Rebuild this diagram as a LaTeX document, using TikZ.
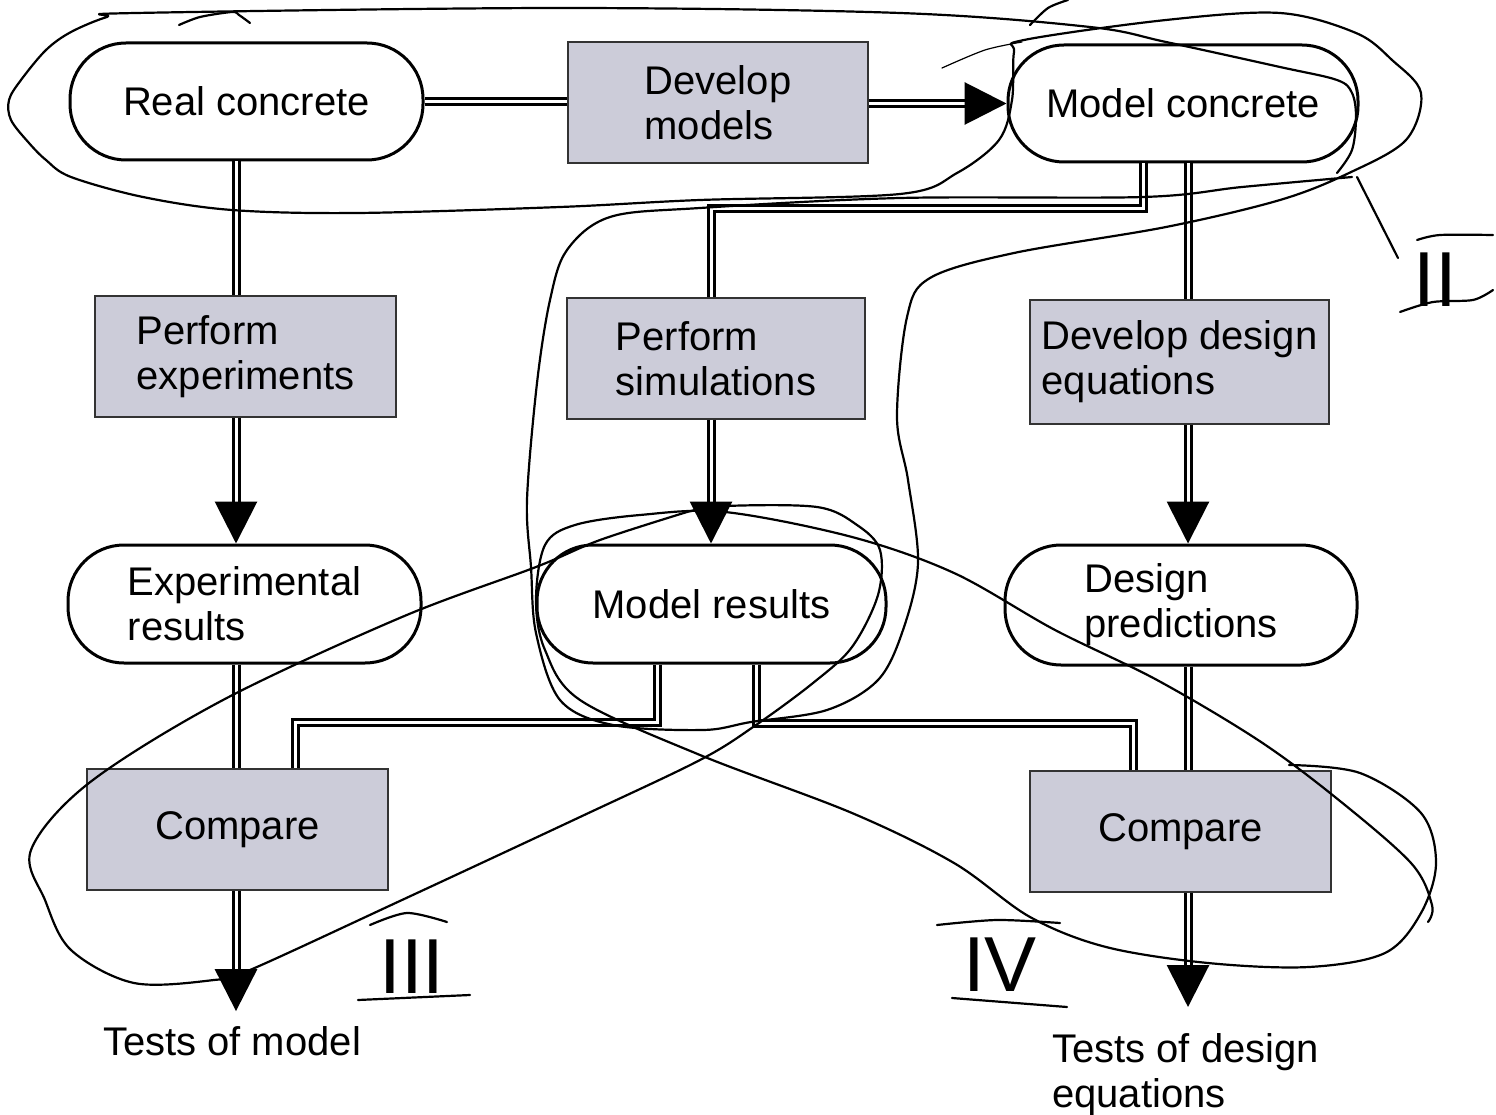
\documentclass[tikz,border=0pt]{standalone}
\usepackage{fontspec}
\setmainfont{Liberation Sans}
\usetikzlibrary{arrows.meta}
\definecolor{boxgray}{RGB}{204,204,217}
\begin{document}
\begin{tikzpicture}[x=1pt,y=-1pt,
  txt/.style={font=\fontsize{40pt}{45pt}\selectfont, align=left, inner sep=0pt},
  stad/.style={txt, draw=black, line width=3pt, rounded corners=56pt, fill=white},
  gbox/.style={txt, draw=black!80, line width=1.5pt, fill=boxgray},
  plain/.style={txt},
  dbl/.style={draw=black, double=white, double distance=3pt, line width=3pt},
  tipped/.style={-{Triangle[length=42pt,width=42pt]}},
  hand/.style={line width=2.2pt, line cap=round, line join=round},
  numeral/.style={inner sep=0pt, font=\fontsize{78pt}{80pt}\selectfont}
]
\useasboundingbox (0,0) rectangle (1496,1115);
\fill[white] (0,0) rectangle (1496,1115);

% column coordinates
\coordinate (cL) at (236,0);
\coordinate (cM) at (711,0);
\coordinate (cR) at (1188,0);
\coordinate (xA) at (1143,209);
\coordinate (j1) at (657,722);
\coordinate (kL) at (295,722);
\coordinate (j2) at (756,723);
\coordinate (kR) at (1133,723);

% nodes
\node[stad, minimum width=353pt, minimum height=117pt] (real) at (246.5,101.5) {Real concrete};
\node[gbox, minimum width=300pt, minimum height=121pt] (devmod) at (718,102.5) {Develop\\models};
\node[stad, minimum width=350pt, minimum height=117pt] (modcon) at (1183,103.5) {Model concrete};
\node[gbox, minimum width=301pt, minimum height=121pt] (perfexp) at (245.5,356.5) {Perform\\experiments};
\node[gbox, minimum width=298pt, minimum height=121pt] (perfsim) at (716,358.5) {Perform\\simulations};
\node[gbox, minimum width=299pt, minimum height=124pt] (devdes) at (1179.5,362) {Develop design\\equations};
\node[stad, minimum width=353pt, minimum height=118pt] (expres) at (244.5,604) {Experimental\\results};
\node[stad, minimum width=349pt, minimum height=118pt] (modres) at (711.5,604) {Model results};
\node[stad, minimum width=352pt, minimum height=120pt] (despred) at (1181,605) {Design\\predictions};
\node[gbox, minimum width=301pt, minimum height=121pt] (cmpL) at (237.5,829.5) {Compare};
\node[gbox, minimum width=301pt, minimum height=121pt] (cmpR) at (1180.5,831.5) {Compare};
\node[plain] (testL) at (232,1041) {Tests of model};
\node[plain, anchor=north west] (testR) at (1052,1033) {Tests of design\\equations};

% connectors
\draw[dbl] (real.east) -- (real.east -| devmod.west);
\draw[dbl, tipped] (modcon.west -| devmod.east) -- (modcon.west);
\draw[dbl] (real.south -| cL) -- (perfexp.north -| cL);
\draw[dbl, tipped] (perfexp.south -| cL) -- (expres.north -| cL);
\draw[dbl] (expres.south -| cL) -- (cmpL.north -| cL);
\draw[dbl, tipped, shorten >=15pt] (cmpL.south -| cL) -- (testL.north -| cL);

\draw[dbl] (xA |- modcon.south) -- (xA) -| (perfsim.north -| cM);
\draw[dbl, tipped] (perfsim.south -| cM) -- (modres.north -| cM);
\draw[dbl] (j1 |- modres.south) -- (j1) -- (kL) -- (kL |- cmpL.north);
\draw[dbl] (j2 |- modres.south) -- (j2) -- (kR) -- (kR |- cmpR.north);

\draw[dbl] (modcon.south -| cR) -- (devdes.north -| cR);
\draw[dbl, tipped] (devdes.south -| cR) -- (despred.north -| cR);
\draw[dbl] (despred.south -| cR) -- (cmpR.north -| cR);
\draw[dbl, tipped, shorten >=26pt] (cmpR.south -| cR) -- (testR.north -| cR);

% hand-drawn loops
\draw[hand] plot[smooth, tension=0.55] coordinates {
 (1337,173) (1352,150) (1356,117) (1352,93) (1337,80) (1280,67) (1166,42) (1090,27)
 (900,13) (560,8) (136,13) (107,17) (71,32) (46,50) (21,80) (9,100) (11,120)
 (29,143) (46,160) (71,177) (143,197) (232,210) (357,213) (560,207) (700,200)
 (900,194) (957,173) (999,140) (1012,100) (1014,52) (1024,40) (1166,20) (1280,13)
 (1356,33) (1392,60) (1421,93) (1406,140) (1349,173) (1280,200) (1166,227)
 (1014,253) (930,278) (907,317) (897,417) (908,480) (918,563) (903,630) (878,680)
 (827,710) (751,722) (703,730) (613,725) (560,700) (536,633) (531,567) (527,500)
 (537,383) (550,300) (567,250) (610,217) (700,208) (900,198) (1143,197) (1242,187)
 (1352,177)};
\draw[hand, line width=1.2pt] plot[smooth] coordinates {(942,68) (985,50) (1022,42)};
\draw[hand] plot[smooth] coordinates {(1030,25) (1048,8) (1068,0)};
\draw[hand] plot[smooth] coordinates {(179,25) (200,17) (232,12) (239,15) (250,23)};
\draw[hand] (1357,177) -- (1398,258);

% loop III
\draw[hand] plot[smooth, tension=0.55] coordinates {
 (687,512) (600,540) (536,567) (402,617) (223,700) (89,783) (31,850) (45,900)
 (71,950) (134,983) (214,980) (250,970) (402,900) (580,817) (700,760) (756,725)
 (813,683) (852,647) (878,595) (880,550) (857,525) (817,507) (725,506) (687,512)};

% loop IV
\draw[hand] plot[smooth, tension=0.55] coordinates {
 (1428,922) (1432,905) (1411,863) (1335,797) (1258,740) (1157,680) (1055,630)
 (954,573) (852,537) (725,512) (640,515) (575,525) (545,545) (536,600) (545,650)
 (580,700) (700,755) (852,813) (954,863) (1030,917) (1106,947) (1208,963)
 (1309,967) (1385,953) (1421,913) (1436,863) (1421,813) (1360,773) (1289,765)};

% numerals
\node[numeral] (nII) at (1435,280) {II};
\draw[hand] plot[smooth] coordinates {(1417,240) (1440,235) (1493,235)};
\draw[hand] plot[smooth] coordinates {(1400,312) (1433,302) (1473,300) (1493,290)};

\node[numeral] (nIII) at (412,967) {III};
\draw[hand] plot[smooth] coordinates {(370,925) (407,913) (447,922)};
\draw[hand] plot[smooth] coordinates {(358,1000) (470,995)};

\node[numeral] (nIV) at (1000,965) {IV};
\draw[hand] plot[smooth] coordinates {(937,925) (997,920) (1060,923)};
\draw[hand] plot[smooth] coordinates {(952,998) (1067,1007)};
\end{tikzpicture}
\end{document}
